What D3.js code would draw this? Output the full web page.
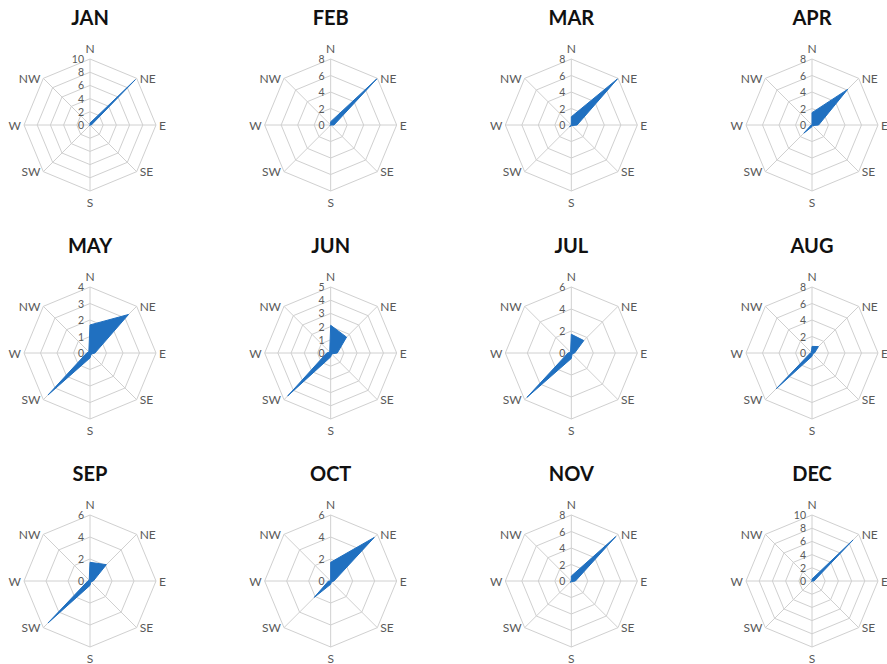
<!DOCTYPE html>
<html>
<head>
<meta charset="utf-8">
<script src="https://cdn.jsdelivr.net/npm/d3@7"></script>
<style>
  html, body { margin: 0; padding: 0; background: #fff; }
  svg { display: block; }
</style>
</head>
<body>
<script>
// Wind direction frequency by month (8 compass points)
const directions = ["N", "NE", "E", "SE", "S", "SW", "W", "NW"];
const months = ["JAN", "FEB", "MAR", "APR", "MAY", "JUN", "JUL", "AUG", "SEP", "OCT", "NOV", "DEC"];

const jan = [0.3, 9.7, 0.2, 0.0, 0.0, 0.1, 0.0, 0.0];
const feb = [0.4, 7.9, 0.4, 0.0, 0.0, 0.1, 0.0, 0.0];
const mar = [1.0, 7.9, 0.7, 0.1, 0.1, 0.3, 0.0, 0.0];
const apr = [1.5, 6.1, 0.8, 0.1, 0.2, 1.4, 0.1, 0.0];
const may = [1.7, 3.3, 0.3, 0.1, 0.3, 3.6, 0.2, 0.1];
const jun = [2.1, 1.7, 0.5, 0.1, 0.3, 4.6, 0.3, 0.1];
const jul = [1.7, 1.6, 0.3, 0.1, 0.5, 5.7, 0.3, 0.1];
const aug = [0.8, 1.1, 0.3, 0.1, 0.4, 6.1, 0.2, 0.1];
const sep = [1.7, 2.1, 0.3, 0.1, 0.4, 5.4, 0.2, 0.1];
const oct = [1.7, 5.6, 0.3, 0.1, 0.3, 2.1, 0.2, 0.0];
const nov = [0.6, 7.6, 0.5, 0.1, 0.1, 0.2, 0.0, 0.0];
const dec = [0.3, 8.8, 0.3, 0.0, 0.0, 0.1, 0.0, 0.0];

// Radial axis maximum and tick step per month
const axisMax  = [10, 8, 8, 8, 4, 5, 6, 8, 6, 6, 8, 10];
const axisStep = [2, 2, 2, 2, 1, 1, 2, 2, 2, 2, 2, 2];

const monthValues = [jan, feb, mar, apr, may, jun, jul, aug, sep, oct, nov, dec];

const W = 887, H = 664;
const R = 66;
const colX = d3.scaleLinear().domain([0, 3]).range([90, 812]);
const rowY = d3.scaleLinear().domain([0, 2]).range([125, 581]);
const angle = d3.scaleLinear().domain([0, directions.length]).range([0, 2 * Math.PI]);

const gridColor = "#d0d0d0";
const textColor = "#595959";
const fillColor = "#2070c0";

const svg = d3.select("body").append("svg")
  .attr("width", W).attr("height", H)
  .style("font-family", "Lato, 'Open Sans', sans-serif");

months.forEach((m, k) => {
  const cx = colX(k % 4), cy = rowY(Math.floor(k / 4));
  const r = d3.scaleLinear().domain([0, axisMax[k]]).range([0, R]);
  const ticks = d3.range(0, axisMax[k] + 1e-9, axisStep[k]);
  const g = svg.append("g").attr("transform", `translate(${cx},${cy})`);

  // title
  g.append("text")
    .attr("x", 0).attr("y", -108)
    .attr("text-anchor", "middle").attr("dominant-baseline", "central")
    .attr("font-size", 20).attr("font-weight", 700).attr("fill", "#111")
    .text(m);

  // octagonal grid rings
  const ring = d3.lineRadial()
    .angle((d, i) => angle(i))
    .radius(d => d)
    .curve(d3.curveLinearClosed);
  ticks.filter(t => t > 0).forEach(t => {
    g.append("path")
      .attr("d", ring(directions.map(() => r(t))))
      .attr("fill", "none").attr("stroke", gridColor).attr("stroke-width", 1);
  });

  // spokes
  directions.forEach((d, i) => {
    const a = angle(i);
    g.append("line")
      .attr("x1", 0).attr("y1", 0)
      .attr("x2", R * Math.sin(a)).attr("y2", -R * Math.cos(a))
      .attr("stroke", gridColor).attr("stroke-width", 1);
  });

  // data polygon
  const area = d3.lineRadial()
    .angle((d, i) => angle(i))
    .radius(d => r(d))
    .curve(d3.curveLinearClosed);
  g.append("path")
    .attr("d", area(monthValues[k]))
    .attr("fill", fillColor).attr("stroke", fillColor)
    .attr("stroke-width", 1).attr("stroke-linejoin", "miter");

  // radial tick labels along the N spoke
  ticks.forEach(t => {
    g.append("text")
      .attr("x", -6).attr("y", -r(t))
      .attr("text-anchor", "end").attr("dominant-baseline", "central")
      .attr("font-size", 10.5).attr("fill", textColor)
      .text(t);
  });

  // compass labels
  directions.forEach((d, i) => {
    const a = angle(i);
    const sx = Math.sin(a), sy = -Math.cos(a);
    let x = R * sx, y = R * sy, anchor = "middle";
    if (Math.abs(sx) < 1e-6) {
      y += sy * 11;
    } else {
      x += sx > 0 ? 3 : -3;
      anchor = sx > 0 ? "start" : "end";
    }
    g.append("text")
      .attr("x", x).attr("y", y)
      .attr("text-anchor", anchor).attr("dominant-baseline", "central")
      .attr("font-size", 12).attr("fill", textColor)
      .text(d);
  });
});
</script>
</body>
</html>
